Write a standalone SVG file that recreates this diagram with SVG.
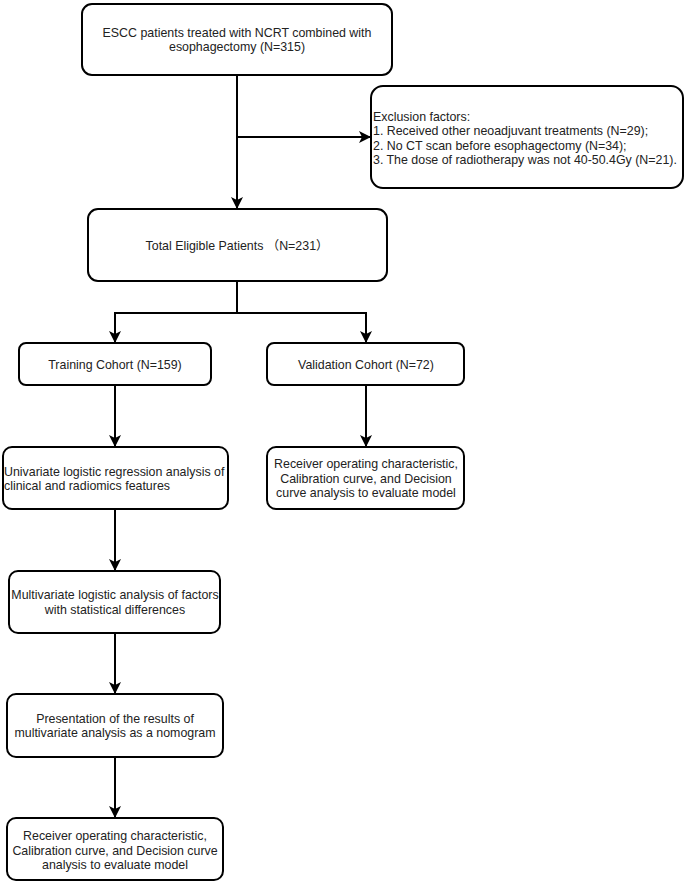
<svg xmlns="http://www.w3.org/2000/svg" width="685" height="887" viewBox="0 0 685 887">
<defs>
<marker id="arr" viewBox="0 0 12 12" refX="11" refY="6" markerWidth="12" markerHeight="12" markerUnits="userSpaceOnUse" orient="auto">
<path d="M0,0 L12,6 L0,12 L3,6 Z" fill="#000"/>
</marker>
</defs>
<style>
.box{fill:#fff;stroke:#000;stroke-width:2}
.t{font-family:"Liberation Sans",Arial,"Noto Sans CJK SC",sans-serif;font-size:12.4px;fill:#222}
.c{text-anchor:middle}
.ln{fill:none;stroke:#000;stroke-width:2}
</style>
<rect width="685" height="887" fill="#fff"/>
<g id="connectors">
<path class="ln" d="M237,75 V208" marker-end="url(#arr)"/>
<path class="ln" d="M237,137 H370" marker-end="url(#arr)"/>
<path class="ln" d="M237,282 V313 M115,313 H366"/>
<path class="ln" d="M115,312 V342" marker-end="url(#arr)"/>
<path class="ln" d="M366,312 V342" marker-end="url(#arr)"/>
<path class="ln" d="M115,385 V446" marker-end="url(#arr)"/>
<path class="ln" d="M366,385 V446" marker-end="url(#arr)"/>
<path class="ln" d="M115,509 V570" marker-end="url(#arr)"/>
<path class="ln" d="M115,633 V693" marker-end="url(#arr)"/>
<path class="ln" d="M115,757 V817" marker-end="url(#arr)"/>
</g>
<g id="n1">
<rect class="box" x="82" y="4" width="310" height="71" rx="10"/>
<text class="t c" x="237" y="37">ESCC patients treated with NCRT combined with</text>
<text class="t c" x="237" y="51">esophagectomy (N=315)</text>
</g>
<g id="exclusion">
<rect class="box" x="371" y="86" width="312" height="102" rx="12"/>
<text class="t" x="373" y="121">Exclusion factors:</text>
<text class="t" x="373" y="135">1. Received other neoadjuvant treatments (N=29);</text>
<text class="t" x="373" y="150">2. No CT scan before esophagectomy (N=34);</text>
<text class="t" x="373" y="164">3. The dose of radiotherapy was not 40-50.4Gy (N=21).</text>
</g>
<g id="n2">
<rect class="box" x="88" y="209" width="299" height="72" rx="10"/>
<text class="t c" x="237" y="250">Total Eligible Patients （N=231）</text>
</g>
<g id="training">
<rect class="box" x="19" y="343" width="192" height="42" rx="7"/>
<text class="t c" x="115" y="369">Training Cohort (N=159)</text>
</g>
<g id="validation">
<rect class="box" x="267" y="343" width="197" height="42" rx="7"/>
<text class="t c" x="366" y="369">Validation Cohort (N=72)</text>
</g>
<g id="univariate">
<rect class="box" x="3" y="447" width="225" height="62" rx="9"/>
<text class="t" x="4" y="476">Univariate logistic regression analysis of</text>
<text class="t" x="4" y="490">clinical and radiomics features</text>
</g>
<g id="valeval">
<rect class="box" x="267" y="447" width="197" height="62" rx="9"/>
<text class="t c" x="366" y="468">Receiver operating characteristic,</text>
<text class="t c" x="366" y="483">Calibration curve, and Decision</text>
<text class="t c" x="366" y="497">curve analysis to evaluate model</text>
</g>
<g id="multivariate">
<rect class="box" x="9" y="571" width="211" height="62" rx="9"/>
<text class="t c" x="115" y="599">Multivariate logistic analysis of factors</text>
<text class="t c" x="115" y="614">with statistical differences</text>
</g>
<g id="nomogram">
<rect class="box" x="7" y="694" width="216" height="63" rx="9"/>
<text class="t c" x="115" y="723">Presentation of the results of</text>
<text class="t c" x="115" y="737">multivariate analysis as a nomogram</text>
</g>
<g id="traineval">
<rect class="box" x="7" y="818" width="216" height="62" rx="9"/>
<text class="t c" x="115" y="840">Receiver operating characteristic,</text>
<text class="t c" x="115" y="855">Calibration curve, and Decision curve</text>
<text class="t c" x="115" y="869">analysis to evaluate model</text>
</g>
</svg>
